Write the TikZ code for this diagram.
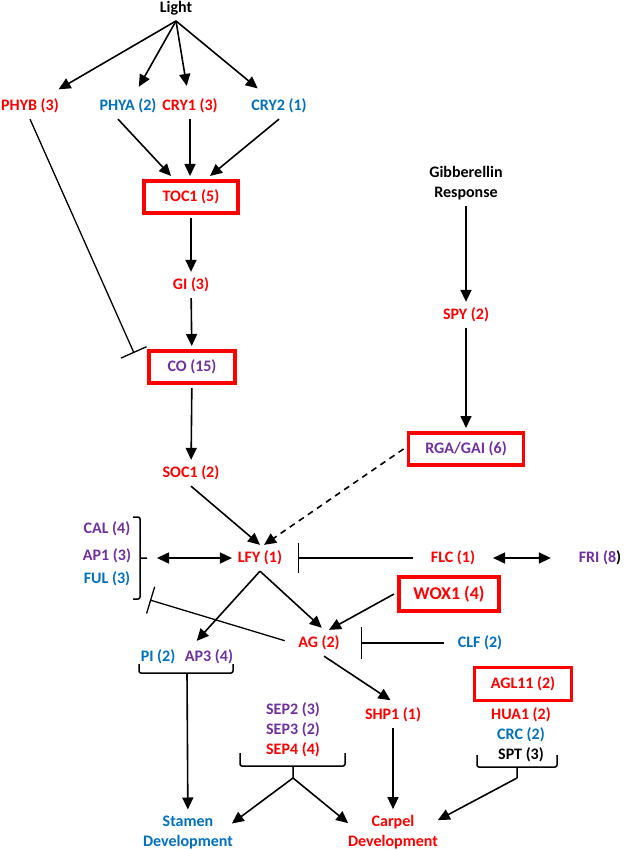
\documentclass[tikz,border=0pt]{standalone}
\usepackage{fontspec}
\setmainfont{Carlito}
\usetikzlibrary{arrows.meta}
\definecolor{gred}{HTML}{FF0000}
\definecolor{gblue}{HTML}{0070C0}
\definecolor{gpurple}{HTML}{7030A0}
\begin{document}
\begin{tikzpicture}[x=1pt,y=-1pt,font=\fontsize{16}{20}\selectfont\bfseries,
  gn/.style={text=#1,inner sep=2pt,outer sep=4pt,align=center},
  hub/.style={gn=#1,draw=gred,line width=3.5pt,outer sep=5pt,minimum height=32pt},
  act/.style={line width=1.6pt,-{Triangle[length=12pt,width=11pt]}},
  dbl/.style={act,{Triangle[length=12pt,width=11pt]}-{Triangle[length=12pt,width=11pt]}},
  inh/.style={line width=1.3pt,-{Bar[width=#1]}},inh/.default=28pt,
  brc/.style={line width=1.5pt,rounded corners=2pt}]
\useasboundingbox (0,0) rectangle (628,850);
\node[gn=black] (light) at (176,8) {Light};
\node[gn=gred] (phyb) at (30,106) {PHYB (3)};
\node[gn=gblue] (phya) at (128,106) {PHYA (2)};
\node[gn=gred] (cry1) at (190,106) {CRY1 (3)};
\node[gn=gblue] (cry2) at (279,106) {CRY2 (1)};
\node[hub=gred,minimum width=94pt] (toc1) at (191,197) {TOC1 (5)};
\node[gn=gred] (gi) at (191,285) {GI (3)};
\node[hub=gpurple,minimum width=86pt] (co) at (192,367) {CO (15)};
\node[gn=gred] (soc1) at (191,473) {SOC1 (2)};
\node[gn=black] (gib) at (466,183) {Gibberellin\\Response};
\node[gn=gred] (spy) at (466,315) {SPY (2)};
\node[hub=gpurple,minimum width=115pt] (rga) at (466,449) {RGA/GAI (6)};
\node[gn=gpurple] (cal) at (107,529) {CAL (4)};
\node[gn=gpurple] (ap1) at (107,556) {AP1 (3)};
\node[gn=gblue] (ful) at (107,579) {FUL (3)};
\node[gn=gred] (lfy) at (260,558) {LFY (1)};
\node[gn=gred] (flc) at (453,558) {FLC (1)};
\node[gn=gpurple] (fri) at (600,558) {FRI (8\textcolor{black}{)}};
\node[hub=gred,minimum width=100pt,minimum height=34pt,font=\fontsize{18}{22}\selectfont\bfseries] (wox) at (449,594) {WOX1 (4)};
\node[gn=gred] (ag) at (319,643) {AG (2)};
\node[gn=gblue] (clf) at (480,643) {CLF (2)};
\node[gn=gblue] (pi) at (158,657) {PI (2)};
\node[gn=gpurple] (ap3) at (209,657) {AP3 (4)};
\node[gn=gpurple] (sep2) at (293,710) {SEP2 (3)};
\node[gn=gpurple] (sep3) at (293,730) {SEP3 (2)};
\node[gn=gred] (sep4) at (293,750) {SEP4 (4)};
\node[gn=gred] (shp1) at (393,715) {SHP1 (1)};
\node[hub=gred,minimum width=97pt,minimum height=33pt] (agl11) at (523,684) {AGL11 (2)};
\node[gn=gred] (hua1) at (521,715) {HUA1 (2)};
\node[gn=gblue] (crc) at (521,735) {CRC (2)};
\node[gn=black] (spt) at (521,755) {SPT (3)};
\node[gn=gblue] (stamen) at (188,832) {Stamen\\Development};
\node[gn=gred] (carpel) at (393,832) {Carpel\\Development};
\coordinate (calbr) at (147,558);
\coordinate (calinh) at (150,600);
\coordinate (pibr) at (187,673);
\foreach \g in {phyb,phya,cry1,cry2}
  \draw[act,shorten >=7pt] (light.south) -- (\g);
\draw[act] ([xshift=-10pt]phya.south) -- ([xshift=-20pt]toc1.north);
\draw[act] (cry1.south) -- (cry1.south |- toc1.north);
\draw[act] (cry2.south) -- ([xshift=19pt]toc1.north);
\draw[act] (toc1) -- (gi);
\draw[act] (gi) -- (co);
\draw[act] (co) -- (soc1);
\draw[inh] (phyb.south) -- ([xshift=-10pt,yshift=-7pt]co.north west);
\draw[act] (gib) -- (spy);
\draw[act] (spy) -- (rga);
\draw[act] (soc1.south) -- (lfy.north);
\draw[act,dash pattern=on 6pt off 5pt] (rga.west) -- ([xshift=4pt]lfy.north);
\draw[inh=30pt,shorten <=12pt,shorten >=10pt] (flc.west) -- (lfy.east);
\draw[dbl,shorten <=12pt,shorten >=22pt] (flc.east) -- (fri.west);
\draw[brc] (133,517) -- (140,517) -- (140,599) -- (133,599) (140,558) -- (calbr);
\draw[dbl,shorten <=10pt] (calbr) -- (lfy.west);
\draw[act,shorten >=4pt] (lfy.south) -- ([xshift=-15pt]ap3.north);
\draw[act,shorten >=3pt] (lfy.south) -- ([xshift=5pt]ag.north);
\draw[act] (wox.west) -- ([xshift=10pt]ag.north);
\draw[inh,shorten <=8pt] (ag.west) -- (calinh);
\draw[inh=32pt,shorten <=8pt,shorten >=15pt] (clf.west) -- (ag.east);
\draw[act,shorten >=3pt] ([xshift=5pt]ag.south) -- (shp1.north);
\draw[act] (shp1) -- (carpel);
\draw[brc] (139,664) -- (139,673) -- (233,673) -- (233,664);
\draw[act] (pibr) -- (stamen);
\draw[brc] (240,753) -- (240,766) -- (345,766) -- (345,753) (293,766) -- (293,778) coordinate (sepbr);
\draw[act] (sepbr) -- ([xshift=-7pt,yshift=-14pt]stamen.north east);
\draw[act] (sepbr) -- ([xshift=6pt,yshift=-14pt]carpel.north west);
\draw[brc] (477,755) -- (477,767) -- (557,767) -- (557,755) (517,767) -- (517,778) coordinate (sptbr);
\draw[act] (sptbr) -- ([xshift=-6pt,yshift=-11pt]carpel.north east);
\end{tikzpicture}
\end{document}
